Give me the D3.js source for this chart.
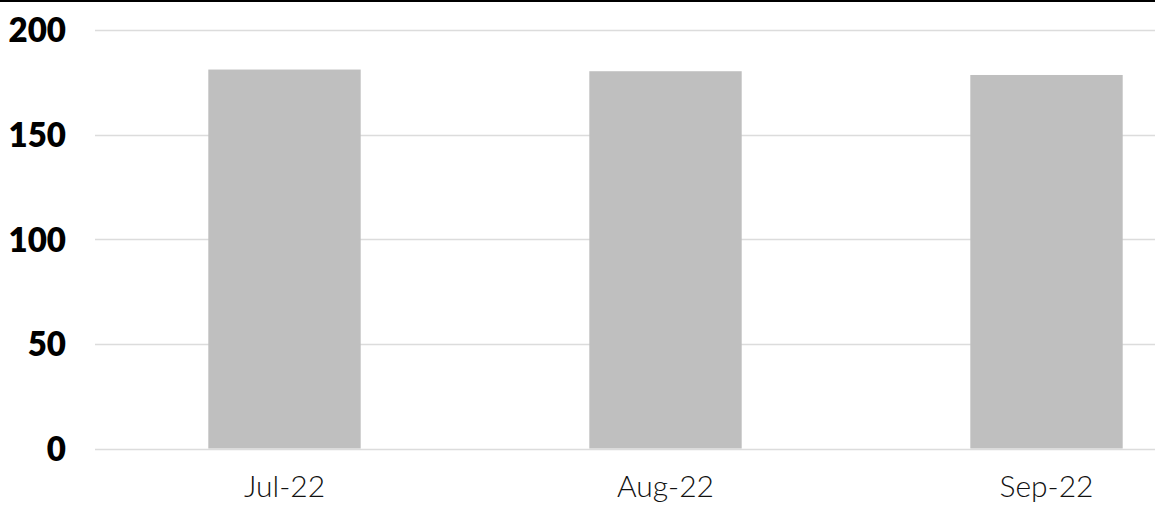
<!DOCTYPE html>
<html>
<head>
<meta charset="utf-8">
<script src="https://cdn.jsdelivr.net/npm/d3@7"></script>
<style>
  html, body { margin: 0; padding: 0; background: #fff; }
  svg { display: block; }
</style>
</head>
<body>
<svg id="chart" width="1155" height="507"></svg>
<script>
const categories = ["Jul-22", "Aug-22", "Sep-22"];
const values = [181.1, 180.3, 178.5];
const yTicks = [0, 50, 100, 150, 200];

const W = 1155, H = 507;
const svg = d3.select("#chart");

// top rule
svg.append("rect").attr("x", 0).attr("y", 0).attr("width", W).attr("height", 2).attr("fill", "#000");

const y = d3.scaleLinear().domain([0, 200]).range([448.5, 30]);
const x = d3.scaleBand().domain(categories).range([94, 1237]).paddingInner(0.6).paddingOuter(0.3);

// gridlines
svg.append("g").selectAll("line").data(yTicks).join("line")
  .attr("x1", 95).attr("x2", W)
  .attr("y1", d => Math.round(y(d)) + 0.5).attr("y2", d => Math.round(y(d)) + 0.5)
  .attr("stroke", "#dcdcdc").attr("stroke-width", 1.5);

// bars
svg.append("g").selectAll("rect").data(values).join("rect")
  .attr("x", (d, i) => x(categories[i]))
  .attr("width", x.bandwidth())
  .attr("y", d => y(d))
  .attr("height", d => y(0) - y(d))
  .attr("fill", "#bfbfbf");

// y axis labels
const yAxis = d3.axisLeft(y).tickValues(yTicks).tickSize(0).tickPadding(0);
const gy = svg.append("g").attr("transform", "translate(66,0)").call(yAxis);
gy.select(".domain").remove();
gy.selectAll("text")
  .attr("font-family", "Lato, 'Open Sans', sans-serif")
  .attr("font-weight", 800)
  .attr("font-size", 33)
  .attr("fill", "#000")
  .attr("dy", "0.36em");

// x axis labels
const xAxis = d3.axisBottom(x).tickSize(0).tickPadding(0);
const gx = svg.append("g").attr("transform", "translate(0,497)").call(xAxis);
gx.select(".domain").remove();
gx.selectAll("text")
  .attr("font-family", "Lato, 'Open Sans', sans-serif")
  .attr("font-weight", 300)
  .attr("font-size", 30)
  .attr("fill", "#111")
  .attr("dy", 0)
  .attr("y", 0);
</script>
</body>
</html>
